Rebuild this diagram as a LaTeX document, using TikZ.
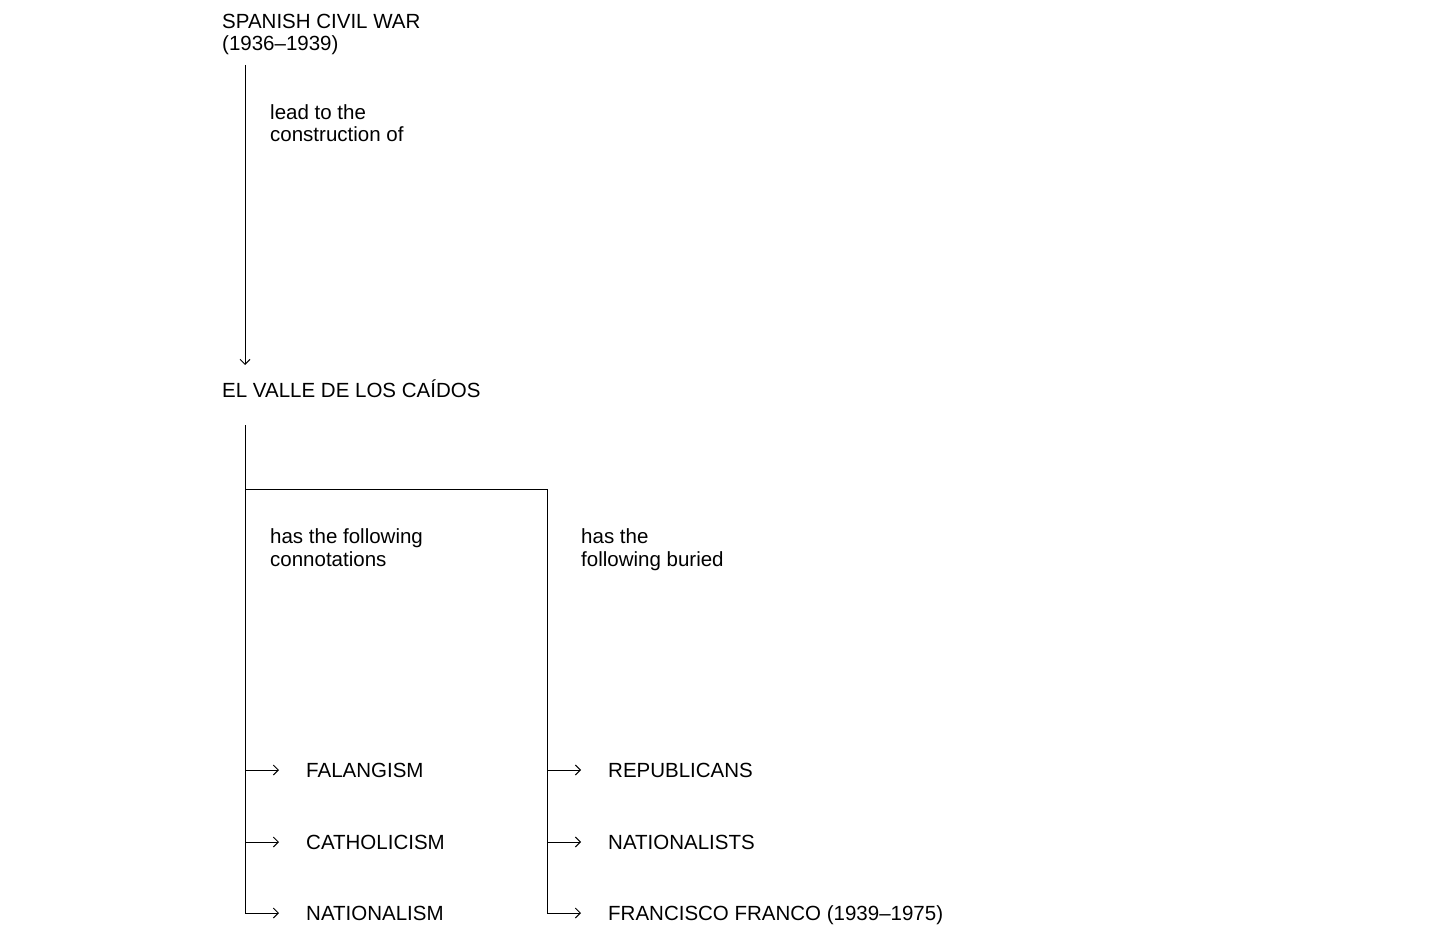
\documentclass[tikz,border=0pt]{standalone}
\usepackage{fontspec}
\setmainfont{Liberation Sans}
\usetikzlibrary{arrows.meta}
\begin{document}
\begin{tikzpicture}[x=1pt,y=-1pt,
  txt/.style={anchor=base west,inner sep=0pt,align=left,font=\fontsize{20.5}{22.5}\selectfont},
  conn/.style={line width=1pt},
  arr/.style={line width=1pt,-{Straight Barb[length=5pt,width=10pt]}}]
\useasboundingbox[fill=white] (0,0) rectangle (1433,936);
% nodes (base anchor = baseline of last line)
\node[txt] (spanish) at (222,51) {SPANISH CIVIL WAR\\(1936–1939)};
\node[txt] (lead) at (270,142) {lead to the\\construction of};
\node[txt] (valle) at (222,397) {EL VALLE DE LOS CAÍDOS};
\node[txt] (conn1) at (270,566) {has the following\\connotations};
\node[txt] (buried) at (581,566) {has the\\following buried};
\node[txt] (fal) at (306,777) {FALANGISM};
\node[txt] (cat) at (306,849) {CATHOLICISM};
\node[txt] (nat) at (306,920) {NATIONALISM};
\node[txt] (rep) at (608,777) {REPUBLICANS};
\node[txt] (nats) at (608,849) {NATIONALISTS};
\node[txt] (fra) at (608,920) {FRANCISCO FRANCO (1939–1975)};
% coordinates
\coordinate (s1) at (245,65);
\coordinate (e1) at (245,365);
\coordinate (s2) at (245,425);
\coordinate (b) at (245,489);
\coordinate (r) at (547,489);
% connectors
\draw[arr] (s1) -- (e1);
\draw[conn] (s2) -- (b) -- (r);
\draw[arr] (s2) -- (245,913) -- ([xshift=-27pt,yshift=7pt]nat.base west);
\draw[arr] (245,770) -- ([xshift=-27pt,yshift=7pt]fal.base west);
\draw[arr] (245,842) -- ([xshift=-27pt,yshift=7pt]cat.base west);
\draw[arr] (r) -- (547,913) -- ([xshift=-27pt,yshift=7pt]fra.base west);
\draw[arr] (547,770) -- ([xshift=-27pt,yshift=7pt]rep.base west);
\draw[arr] (547,842) -- ([xshift=-27pt,yshift=7pt]nats.base west);
\end{tikzpicture}
\end{document}
